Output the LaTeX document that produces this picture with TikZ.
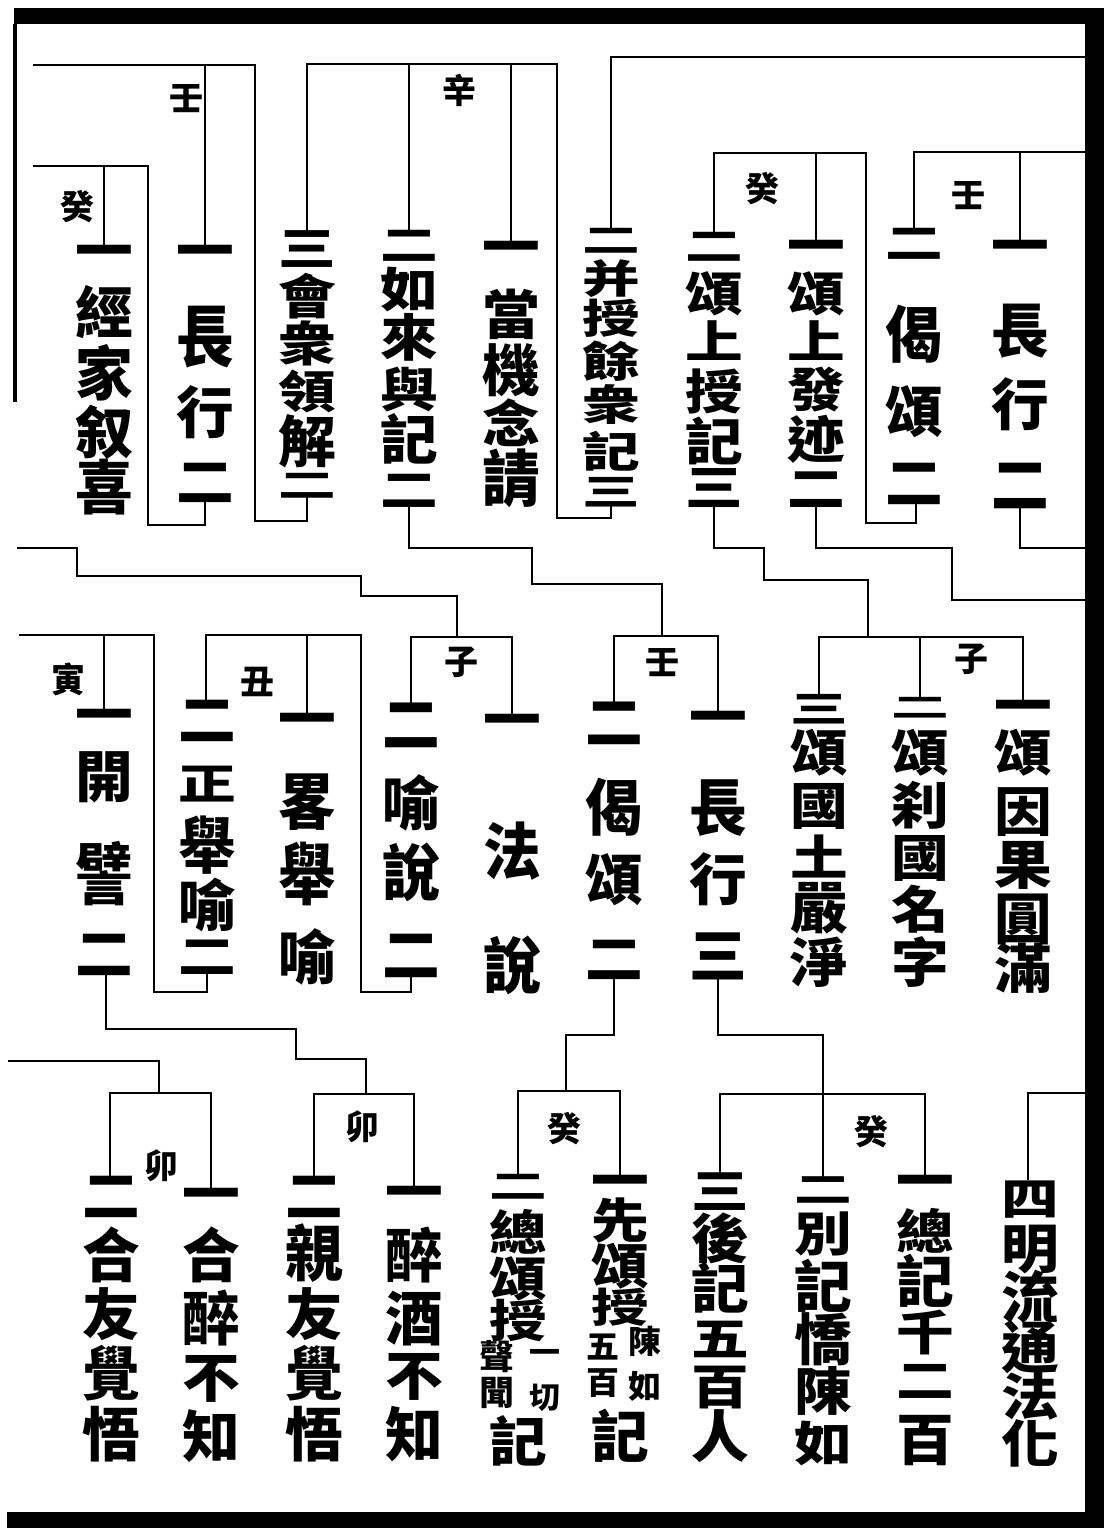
\documentclass[tikz,border=0pt]{standalone}
\usepackage{fontspec}
\usepackage{graphicx}
\newfontfamily\cjk{Noto Sans CJK TC}
\newcommand\kfont[1]{\cjk\bfseries\fontsize{#1}{#1}\selectfont}
\tikzset{
  link/.style={line width=2.4pt, line cap=rect},
  kchar/.style={inner sep=0pt, anchor=base},
  lab/.style={inner sep=0pt, anchor=base, font=\kfont{34}},
}
% one vertical column: y/char/squash
\newcommand\kcol[4][56]{%
  \foreach \ky/\kc/\kv [count=\ki] in {#4}
    \node[kchar, font=\kfont{#1}] (#2\ki) at (#3,{\ky+0.38*#1*\kv}) {\scalebox{1.03}[\kv]{\kc}};}

\begin{document}
\begin{tikzpicture}[x=1pt, y=-1pt]
\useasboundingbox (0,0) rectangle (1117,1528);
\fill[white] (0,0) rectangle (1117,1528);

% frame
\fill (14,8) rectangle (1104,24);
\fill (1085,8) rectangle (1104,1528);
\fill (7,1512) rectangle (1104,1528);
\draw[line width=4pt] (15,24) -- (15,402);

% connection points
\coordinate (At) at (1020,245); \coordinate (Ab) at (1020,504);
\coordinate (Bt) at (914,230);  \coordinate (Bb) at (916,500);
\coordinate (Ct) at (816,245);  \coordinate (Cb) at (816,504);
\coordinate (Dt) at (714,234);  \coordinate (Db) at (714,504);
\coordinate (Et) at (611,229);  \coordinate (Eb) at (611,504);
\coordinate (Ft) at (511,246);
\coordinate (Gt) at (409,232);  \coordinate (Gb) at (409,504);
\coordinate (Ht) at (307,232);  \coordinate (Hb) at (307,496);
\coordinate (It) at (205,250);  \coordinate (Ib) at (205,498);
\coordinate (Jt) at (104,250);
\coordinate (Kt) at (104,714);  \coordinate (Kb) at (106,971);
\coordinate (Lt) at (206,701);  \coordinate (Lb) at (207,971);
\coordinate (Mt) at (307,718);
\coordinate (Nt) at (411,705);  \coordinate (Nb) at (411,973);
\coordinate (Ot) at (512,719);
\coordinate (Pt) at (614,704);  \coordinate (Pb) at (614,975);
\coordinate (Qt) at (718,716);  \coordinate (Qb) at (718,975);
\coordinate (Rt) at (819,696);
\coordinate (St) at (920,698);
\coordinate (Tt) at (1023,705);
\coordinate (Ut) at (110,1177);
\coordinate (Vt) at (211,1193);
\coordinate (Wt) at (314,1177);
\coordinate (Xt) at (414,1191);
\coordinate (Yt) at (518,1175);
\coordinate (Zt) at (620,1180);
\coordinate (AAt) at (720,1175);
\coordinate (ABt) at (823,1177);
\coordinate (ACt) at (925,1180);
\coordinate (ADt) at (1028,1179);

% bracket joints and page-edge ends
\coordinate (jXin) at (557,64);
\coordinate (jRen1) at (255,65);
\coordinate (jGui1) at (148,166);
\coordinate (jGui2) at (866,153);
\coordinate (jZi3) at (868,637);
\coordinate (jRen3) at (662,636);
\coordinate (jZi1) at (457,637);
\coordinate (jChou) at (361,635);
\coordinate (jYin) at (154,635);
\coordinate (jMao2) at (366,1094);
\coordinate (jMao1) at (159,1093);
\coordinate (jGui3) at (566,1091);
\coordinate (jGui4) at (823,1094);
\coordinate (oTop) at (1084,57);
\coordinate (oRen1) at (34,65);
\coordinate (oGui1) at (34,166);
\coordinate (oRen2) at (1084,152);
\coordinate (oA) at (1084,548);
\coordinate (oC) at (1084,600);
\coordinate (oL1) at (18,548);
\coordinate (oYin) at (20,635);
\coordinate (oL2) at (9,1061);
\coordinate (oR) at (1084,1093);

% top band
\draw[link] (Et) |- (oTop);
\draw[link] (Eb) -- ++(0,14) -| (jXin) -| (Ht);
\draw[link] (Gt) -- (Gt |- jXin);
\draw[link] (Ft) -- (Ft |- jXin);
\draw[link] (Hb) -- ++(0,25) -| (jRen1) -- (oRen1);
\draw[link] (It) -- (It |- jRen1);
\draw[link] (Ib) -- ++(0,27) -| (jGui1) -- (oGui1);
\draw[link] (Jt) -- (Jt |- jGui1);
\draw[link] (Bt) |- (oRen2);
\draw[link] (At) -- (At |- oRen2);
\draw[link] (Bb) -- ++(0,23) -| (jGui2) -| (Dt);
\draw[link] (Ct) -- (Ct |- jGui2);
\draw[link] (Ab) |- (oA);
\draw[link] (Cb) -- ++(0,44) -| (952,600) -- (oC);

% middle band
\draw[link] (Db) -- ++(0,44) -| (764,580) -| (jZi3);
\draw[link] (Rt) |- (jZi3) -| (Tt);
\draw[link] (St) -- (St |- jZi3);
\draw[link] (Gb) -- ++(0,44) -| (532,584) -| (jRen3);
\draw[link] (Pt) |- (jRen3) -| (Qt);
\draw[link] (oL1) -| (77,576) -| (361,596) -| (jZi1);
\draw[link] (Nt) |- (jZi1) -| (Ot);
\draw[link] (Nb) -- ++(0,19) -| (jChou) -| (Lt);
\draw[link] (Mt) -- (Mt |- jChou);
\draw[link] (Lb) -- ++(0,21) -| (jYin) -- (oYin);
\draw[link] (Kt) -- (Kt |- jYin);

% bottom band
\draw[link] (Kb) -- ++(0,58) -| (296,1059) -| (jMao2);
\draw[link] (Wt) |- (jMao2) -| (Xt);
\draw[link] (oL2) -| (jMao1);
\draw[link] (Ut) |- (jMao1) -| (Vt);
\draw[link] (Pb) -- ++(0,60) -| (jGui3);
\draw[link] (Yt) |- (jGui3) -| (Zt);
\draw[link] (Qb) -- ++(0,60) -| (ABt);
\draw[link] (AAt) |- (jGui4) -| (ACt);
\draw[link] (oR) -| (ADt);

% columns, top band
\kcol{A}{1020}{245/一/1, 330/長/1.05, 404/行/1, 484/二/1.1}
\kcol{B}{914}{243/二/0.75, 334/偈/1.1, 411/頌/1, 482/二/1}
\kcol{C}{816}{245/一/1, 293/頌/0.85, 341/上/0.8, 389/發/0.85, 439/迹/0.9, 488/二/0.86}
\kcol{D}{714}{246/二/0.7, 293/頌/0.85, 341/上/0.8, 391/授/0.85, 441/記/0.9, 487/三/0.87}
\kcol{E}{611}{240/二/0.6, 279/并/0.7, 318/授/0.72, 362/餘/0.75, 405/衆/0.75, 452/記/0.75, 491/三/0.66}
\kcol{F}{511}{246/一/1, 314/當/0.95, 370/機/1, 423/念/0.9, 478/請/1.1}
\kcol{G}{409}{245/二/0.75, 289/如/0.85, 337/來/0.9, 389/與/0.85, 439/記/0.95, 489/二/0.8}
\kcol{H}{307}{248/三/0.82, 296/會/0.85, 343/衆/0.85, 391/領/0.8, 441/解/1, 485/二/0.6}
\kcol{I}{205}{250/一/1, 336/長/1.2, 412/行/1, 481/二/0.95}
\kcol{J}{104}{250/一/1, 312/經/1, 373/家/1.05, 432/叙/1, 487/喜/1.05}

% columns, middle band
\kcol{K}{104}{714/一/1, 776/開/1, 874/譬/1.2, 953/二/1}
\kcol{L}{207}{719/二/1, 784/正/0.75, 845/舉/1.1, 905/喻/1, 956/二/0.83}
\kcol{M}{307}{718/一/1, 801/畧/1.1, 874/舉/1.2, 957/喻/1.05}
\kcol{N}{411}{724/二/1.08, 803/喻/1.05, 872/說/1.1, 954/二/1.05}
\kcol{O}{512}{719/一/1, 851/法/1.1, 965/說/1.1}
\kcol{P}{614}{722/二/1.03, 807/偈/1.1, 879/頌/1, 958/二/0.95}
\kcol{Q}{718}{716/一/1, 807/長/1.1, 879/行/1, 955/三/1.05}
\kcol{R}{819}{708/三/0.66, 752/頌/0.9, 805/國/0.9, 857/土/0.85, 907/嚴/1, 962/淨/0.95}
\kcol{S}{920}{707/二/0.5, 752/頌/0.9, 805/刹/0.9, 857/國/0.9, 909/名/0.9, 962/字/0.95}
\kcol{T}{1023}{705/一/1, 752/頌/0.9, 811/因/0.95, 864/果/0.95, 918/圓/1, 968/滿/0.95}

% columns, bottom band
\kcol{U}{111}{1195/二/1, 1255/合/1.05, 1314/友/1, 1373/覺/1.05, 1434/悟/1.05}
\kcol{V}{211}{1193/一/1, 1255/合/1.05, 1318/醉/1.05, 1377/不/0.95, 1436/知/1}
\kcol{W}{314}{1195/二/1, 1253/親/1.1, 1314/友/1, 1373/覺/1.05, 1434/悟/1.05}
\kcol{X}{414}{1191/一/1, 1255/醉/1.05, 1318/酒/1.05, 1375/不/0.95, 1434/知/1.05}
\kcol{Y}{518}{1186/二/0.6, 1232/總/0.85, 1278/頌/0.85, 1320/授/0.8, 1441/記/0.95}
\kcol[30]{Ya}{545}{1352/一/1, 1397/切/1}
\kcol[34]{Yb}{497}{1357/聲/1, 1393/聞/1}
\kcol{Z}{620}{1180/一/1, 1220/先/0.85, 1266/頌/0.88, 1307/授/0.72, 1436/記/1}
\kcol[32]{Za}{645}{1341/陳/1, 1386/如/1}
\kcol[32]{Zb}{603}{1346/五/1, 1382/百/1}
\kcol{AA}{720}{1191/三/0.84, 1238/後/0.95, 1288/記/0.95, 1338/五/0.8, 1386/百/0.85, 1436/人/1}
\kcol{AB}{823}{1189/二/0.64, 1233/別/0.85, 1286/記/1, 1339/憍/1, 1391/陳/0.92, 1443/如/0.85}
\kcol{AC}{925}{1180/一/1, 1231/總/0.85, 1281/記/1.0, 1332/千/0.85, 1380/二/0.82, 1439/百/1}
\kcol{AD}{1030}{1198/四/0.8, 1248/明/0.95, 1297/流/1, 1347/通/1, 1396/法/0.9, 1443/化/0.9}

% bracket marks
\foreach \lx/\ly/\lc [count=\li] in {186/98/壬, 459/91/辛, 77/207/癸, 762/189/癸, 968/195/壬,
    68/680/寅, 257/682/丑, 461/662/子, 662/662/壬, 971/659/子,
    161/1166/卯, 362/1127/卯, 564/1129/癸, 871/1132/癸}
  \node[lab] (lab\li) at (\lx,{\ly+12.9}) {\lc};
\end{tikzpicture}
\end{document}
